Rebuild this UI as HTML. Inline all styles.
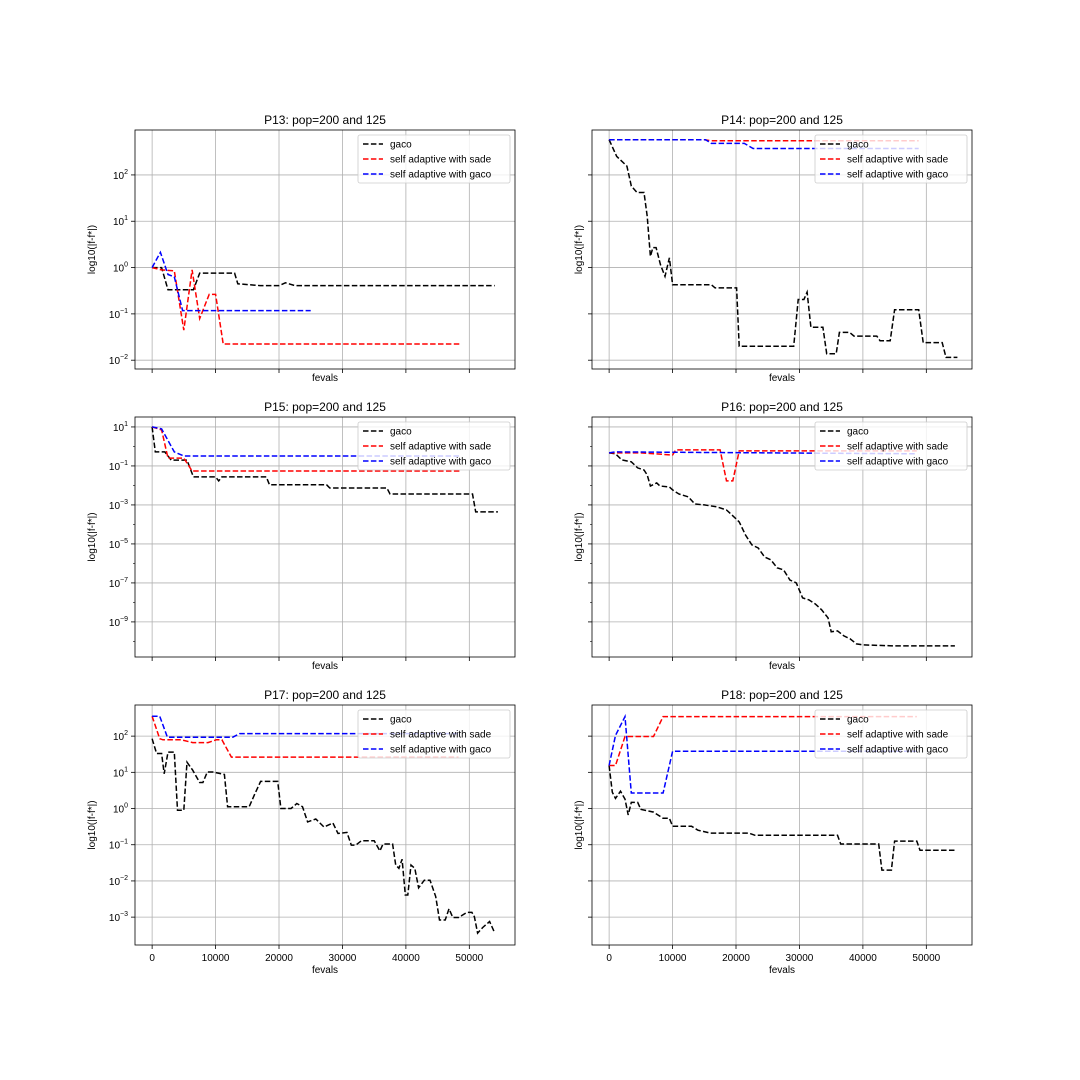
<!DOCTYPE html>
<html><head><meta charset="utf-8"><style>
html,body{margin:0;padding:0;background:#fff;}
svg{display:block;font-family:"Liberation Sans","DejaVu Sans",sans-serif;}
</style></head><body>
<svg id="fig" width="1080" height="1080" viewBox="0 0 1080 1080"></svg>
<script>
// x values (fevals) and log10 values for each panel / series
const p13Gx=[0,1500,2500,5000,6500,7500,13000,13500,17000,20000,21000,22500,54000];
const p13Gy=[0,0,-0.48,-0.48,-0.48,-0.12,-0.12,-0.35,-0.39,-0.39,-0.33,-0.39,-0.39];
const p13Rx=[0,1500,3500,5000,6300,7500,9000,10000,11200,48500];
const p13Ry=[0,-0.05,-0.07,-1.35,-0.05,-1.1,-0.58,-0.58,-1.65,-1.65];
const p13Bx=[0,1300,2500,3500,4800,25000];
const p13By=[0,0.33,-0.15,-0.2,-0.93,-0.93];

const p14Gx=[0,1200,2800,3500,4400,5500,6000,6500,6900,7400,8100,8800,9500,10000,16100,16700,20100,20500,29100,29800,30700,31200,31800,33700,34300,35800,36300,37900,38600,42200,42700,44300,45000,48800,49500,52500,53100,54900];
const p14Gy=[2.76,2.40,2.19,1.76,1.62,1.62,1.11,0.24,0.43,0.43,0.06,-0.19,0.21,-0.37,-0.37,-0.44,-0.44,-1.70,-1.70,-0.69,-0.69,-0.53,-1.29,-1.29,-1.86,-1.86,-1.40,-1.40,-1.48,-1.48,-1.58,-1.58,-0.91,-0.91,-1.62,-1.62,-1.94,-1.94];
const p14Rx=[0,15000,16000,48800];
const p14Ry=[2.76,2.76,2.74,2.74];
const p14Bx=[0,15200,16100,21300,22700,48800];
const p14By=[2.76,2.76,2.68,2.68,2.57,2.57];

const p15Gx=[0,500,2000,3000,5500,6500,10000,10500,11000,18000,18500,27500,28000,37000,37500,50500,51000,54500];
const p15Gy=[1.0,-0.28,-0.28,-0.7,-0.7,-1.56,-1.56,-1.77,-1.56,-1.56,-1.97,-1.97,-2.13,-2.13,-2.44,-2.44,-3.36,-3.36];
const p15Rx=[0,1500,2500,5000,6300,48500];
const p15Ry=[1.0,0.85,-0.6,-0.6,-1.26,-1.26];
const p15Bx=[0,1500,3500,5000,48500];
const p15By=[1.0,0.9,-0.28,-0.49,-0.49];

const p16Gx=[0,1000,2000,3500,4500,5500,6000,6500,7500,8000,9500,10000,11000,12500,13500,15000,17000,18500,19500,20500,21500,22500,23500,24500,25500,26500,27500,28500,29500,30500,31500,32500,33500,34500,35000,36000,37000,38000,39000,40000,45000,54500];
const p16Gy=[-0.33,-0.38,-0.69,-0.79,-1.10,-1.21,-1.46,-2.03,-1.87,-2.03,-2.08,-2.23,-2.44,-2.59,-2.95,-3.0,-3.10,-3.26,-3.56,-3.87,-4.54,-5.05,-5.21,-5.67,-5.82,-6.23,-6.33,-6.85,-7.0,-7.77,-7.87,-8.08,-8.38,-8.79,-9.51,-9.46,-9.72,-9.87,-10.13,-10.18,-10.23,-10.23];
const p16Rx=[0,5000,10000,10500,17500,18500,19500,20500,48500];
const p16Ry=[-0.33,-0.33,-0.44,-0.18,-0.18,-1.77,-1.77,-0.23,-0.23];
const p16Bx=[0,1000,48500];
const p16By=[-0.33,-0.28,-0.38];

const p17Gx=[0,700,1500,1900,2500,3500,4000,5000,5500,6400,7500,8000,8700,9600,11400,11900,15300,16100,17100,19800,20300,21900,22800,23700,24500,25800,27100,28500,29300,30700,31400,32100,33000,35000,35900,36400,37900,38400,38900,39400,39900,40300,40800,41400,42000,42900,43800,44700,45300,46200,46800,47400,48300,49600,50400,50800,51300,52100,53200,53900];
const p17Gy=[1.93,1.52,1.52,0.96,1.56,1.56,-0.05,-0.05,1.28,1.06,0.72,0.72,1.01,1.01,0.94,0.05,0.05,0.37,0.75,0.75,0,0,0.14,0.05,-0.37,-0.29,-0.51,-0.40,-0.69,-0.66,-1.01,-1.01,-0.89,-0.89,-1.17,-0.98,-0.98,-1.56,-1.65,-1.40,-2.39,-2.39,-1.56,-1.65,-2.19,-1.98,-1.98,-2.43,-3.08,-3.08,-2.77,-3.01,-3.01,-2.87,-2.87,-2.99,-3.44,-3.29,-3.12,-3.40];
const p17Rx=[0,1200,1700,4600,6400,8800,10100,11000,12500,48300];
const p17Ry=[2.55,1.93,1.90,1.90,1.82,1.82,1.90,1.90,1.42,1.42];
const p17Bx=[0,1200,2400,12700,13800,48300];
const p17By=[2.55,2.55,1.97,1.97,2.07,2.07];

const p18Gx=[0,500,1000,1800,2500,3000,3500,4500,5000,7000,8500,9500,10000,13000,14000,16000,22000,23000,36000,36500,42500,43000,44500,45000,48500,49000,54500];
const p18Gy=[1.19,0.45,0.28,0.48,0.26,-0.18,0.17,0.17,-0.02,-0.1,-0.27,-0.27,-0.49,-0.49,-0.6,-0.68,-0.68,-0.74,-0.74,-0.98,-0.98,-1.70,-1.70,-0.90,-0.90,-1.15,-1.15];
const p18Rx=[0,1000,2500,7000,8500,48500];
const p18Ry=[1.19,1.19,1.99,1.99,2.54,2.54];
const p18Bx=[0,1000,2500,3500,8500,10000,48500];
const p18By=[1.19,2.02,2.54,0.43,0.43,1.58,1.58];

const titles=["P13: pop=200 and 125","P14: pop=200 and 125","P15: pop=200 and 125","P16: pop=200 and 125","P17: pop=200 and 125","P18: pop=200 and 125"];
const xTicks=[0,10000,20000,30000,40000,50000];
const row1Ticks=[2,1,0,-1,-2];
const row2Ticks=[1,-1,-3,-5,-7,-9];
const row3Ticks=[2,1,0,-1,-2,-3];
const legendLabels=["gaco","self adaptive with sade","self adaptive with gaco"];

const NS="http://www.w3.org/2000/svg";
const svg=document.getElementById('fig');
function mk(tag,attrs,parent){const e=document.createElementNS(NS,tag);for(const k in attrs)e.setAttribute(k,attrs[k]);(parent||svg).appendChild(e);return e;}

const cols=[135,592], W=380;
const rows=[{t:130,b:369,lmax:2.97,lmin:-2.19,ticks:row1Ticks},{t:417,b:657,lmax:1.51,lmin:-10.8,ticks:row2Ticks},{t:705,b:945,lmax:2.86,lmin:-3.77,ticks:row3Ticks}];
const XMIN=-2700,XMAX=57200;
const panels=[[p13Gx,p13Gy,p13Rx,p13Ry,p13Bx,p13By],[p14Gx,p14Gy,p14Rx,p14Ry,p14Bx,p14By],[p15Gx,p15Gy,p15Rx,p15Ry,p15Bx,p15By],[p16Gx,p16Gy,p16Rx,p16Ry,p16Bx,p16By],[p17Gx,p17Gy,p17Rx,p17Ry,p17Bx,p17By],[p18Gx,p18Gy,p18Rx,p18Ry,p18Bx,p18By]];
const colors=["#000000","#ff0000","#0000ff"];

panels.forEach((pd,i)=>{
  const r=rows[Math.floor(i/2)], c=i%2, L=cols[c], R=L+W;
  const sx=v=>L+(v-XMIN)/(XMAX-XMIN)*W;
  const sy=v=>r.t+(r.lmax-v)/(r.lmax-r.lmin)*(r.b-r.t);
  const g=mk('g',{});
  
  
  xTicks.forEach(t=>{const l=mk('line',{x1:sx(t),x2:sx(t),y1:r.t,y2:r.b,stroke:'#b0b0b0','stroke-width':0.8},g);
    const tk=mk('line',{x1:sx(t),x2:sx(t),y1:r.b,y2:r.b+4,stroke:'#000','stroke-width':0.8},g);
    if(i>=4){const tx=mk('text',{x:sx(t),y:r.b+16,'font-size':10,'text-anchor':'middle',fill:'#000'},g);tx.textContent=String(t);}
  });
  r.ticks.forEach(t=>{const l=mk('line',{x1:L,x2:R,y1:sy(t),y2:sy(t),stroke:'#b0b0b0','stroke-width':0.8},g);
    const tk=mk('line',{x1:L-4,x2:L,y1:sy(t),y2:sy(t),stroke:'#000','stroke-width':0.8},g);
    if(c===0){const tx=mk('text',{x:L-7,y:sy(t)+4,'font-size':10,'text-anchor':'end',fill:'#000'},g);
      const a=mk('tspan',{},tx);a.textContent='10';const b=mk('tspan',{dy:-5,'font-size':7},tx);b.textContent=(t<0?'\u2212'+(-t):String(t));}
  });
  for(let d=Math.ceil(r.lmin);d<r.lmax;d++){ if(r.ticks.indexOf(d)<0){const tk=mk('line',{x1:L-2,x2:L,y1:sy(d),y2:sy(d),stroke:'#000','stroke-width':0.6},g);}}
  for(let s=0;s<3;s++){const xs=pd[s*2], ys=pd[s*2+1];
    const pts=xs.map((x,k)=>sx(x).toFixed(1)+','+sy(ys[k]).toFixed(1)).join(' ');
    const pl=mk('polyline',{points:pts,fill:'none',stroke:colors[s],'stroke-width':1.5,'stroke-dasharray':'5.5,2.4'},g);
    }
  const fr=mk('rect',{x:L,y:r.t,width:W,height:r.b-r.t,fill:'none',stroke:'#000','stroke-width':0.8},g);
  const tt=mk('text',{x:L+W/2,y:r.t-6,'font-size':12,'text-anchor':'middle',fill:'#000'},g);tt.textContent=titles[i];
  const xl=mk('text',{x:L+W/2,y:r.b+(i>=4?28:12),'font-size':10,'text-anchor':'middle',fill:'#000'},g);xl.textContent='fevals';
  const yx=(c===1?L-10:L-40), yc=(r.t+r.b)/2;
  const yl=mk('text',{x:yx,y:yc,'font-size':10,'text-anchor':'middle',fill:'#000',transform:'rotate(-90 '+yx+' '+yc+')'},g);yl.textContent='log10(|f-f*|)';
  const lg=mk('g',{},g);
  const lx=R-157, ly=r.t+5;
  mk('rect',{x:lx,y:ly,width:152,height:48,rx:2,fill:'#fff','fill-opacity':0.8,stroke:'#cccccc','stroke-width':0.8},lg);
  legendLabels.forEach((lab,k)=>{const yy=ly+9+k*15;
    const ll=mk('line',{x1:lx+5,x2:lx+25,y1:yy,y2:yy,stroke:colors[k],'stroke-width':1.5,'stroke-dasharray':'5.5,2.4'},lg);
    const lt=mk('text',{x:lx+32,y:yy+3.5,'font-size':10,fill:'#000'},lg);lt.textContent=lab;});
});
</script>
</body></html>
